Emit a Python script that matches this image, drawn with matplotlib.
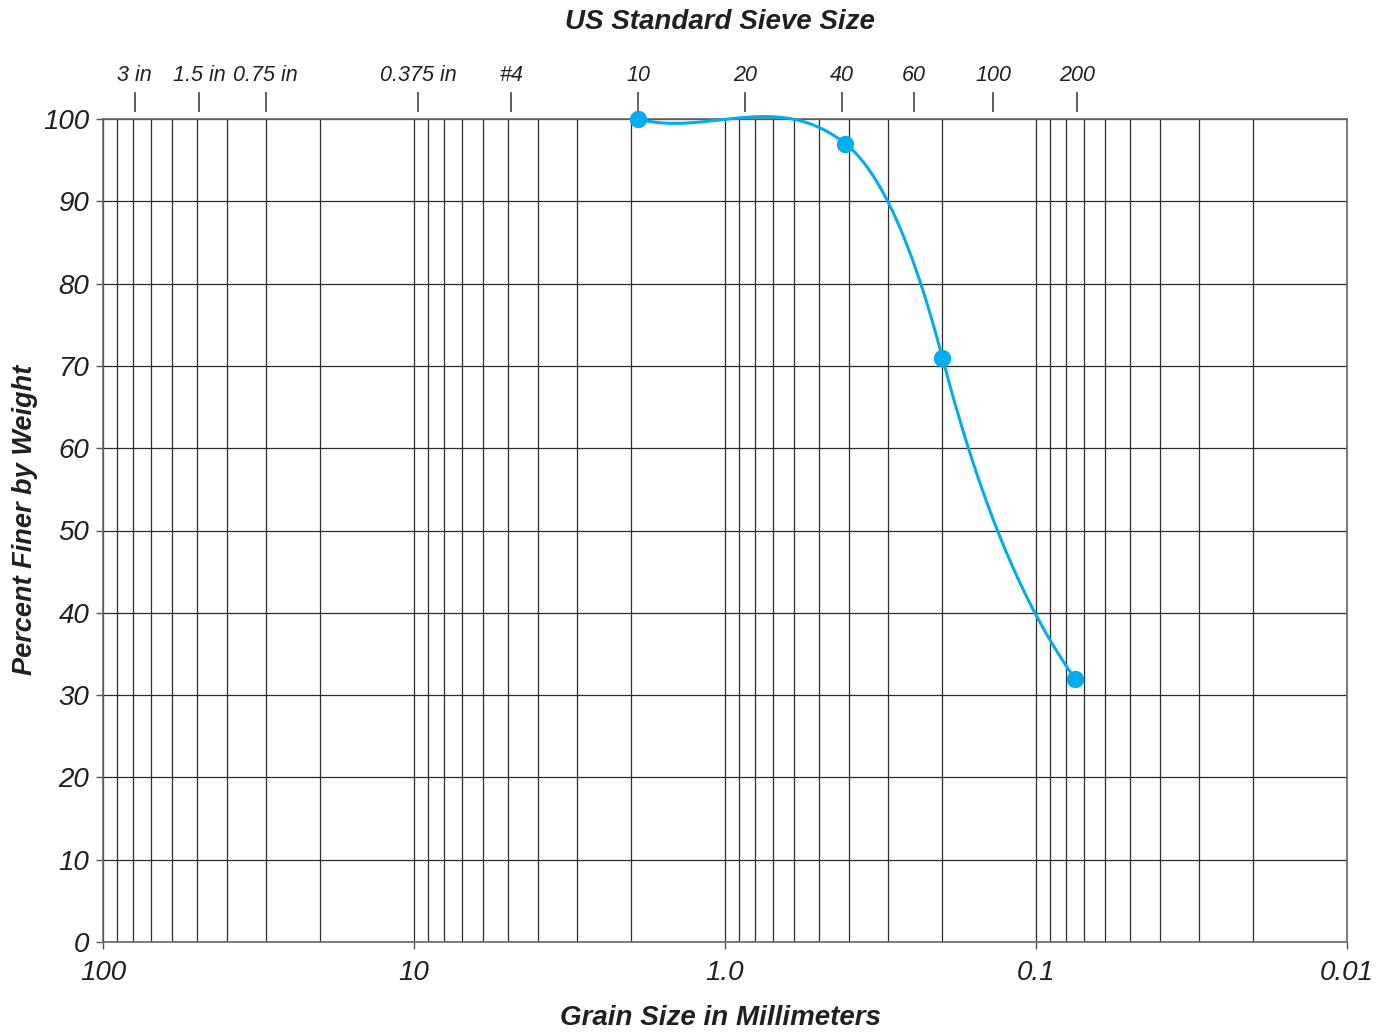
import matplotlib
matplotlib.use('Agg')
import matplotlib.pyplot as plt
import numpy as np
from matplotlib.ticker import FixedLocator, FixedFormatter, LogLocator, NullFormatter

plt.rcParams['font.family'] = ['Liberation Sans', 'DejaVu Sans']
plt.rcParams['font.style'] = 'italic'

# dados
grain_mm = [1.9, 0.41, 0.2, 0.075]
percent_finer = [100, 97, 71, 32]
# inclinacao da curva desenhada em cada ponto (% por decada)
curve_slope = [10, 30, 144, 54]

sieve_labels = ['3 in', '1.5 in', '0.75 in', '0.375 in', '#4', '10', '20', '40', '60', '100', '200']
sieve_mm = [79.0, 49.0, 30.0, 9.7, 4.87, 1.9, 0.86, 0.42, 0.247, 0.137, 0.074]

x_ticks = [100, 10, 1.0, 0.1, 0.01]
x_tick_labels = ['100', '10', '1.0', '0.1', '0.01']
y_ticks = list(range(0, 101, 10))

COR_LINHA = '#00aeef'
COR_TEXTO = '#231f20'
COR_GRADE = '#2b2b2b'


def curvaHermite(x, y, m, n=120):
  # curva suave (hermite cubica) em log10(x), passando pelos pontos
  u = np.log10(x)
  xs, ys = [], []
  for i in range(len(u) - 1):
    h = u[i + 1] - u[i]
    s = np.linspace(0, 1, n)
    h00 = 2 * s**3 - 3 * s**2 + 1
    h10 = s**3 - 2 * s**2 + s
    h01 = -2 * s**3 + 3 * s**2
    h11 = s**3 - s**2
    xs.append(u[i] + s * h)
    ys.append(h00 * y[i] + h10 * h * m[i] + h01 * y[i + 1] + h11 * h * m[i + 1])
  return 10 ** np.concatenate(xs), np.concatenate(ys)


fig = plt.figure(figsize=(13.9, 10.36), dpi=100)
ax = fig.add_axes([103 / 1390, 1 - 942 / 1036, (1347 - 103) / 1390, (942 - 119) / 1036])

ax.set_xscale('log')
ax.set_xlim(100, 0.01)
ax.set_ylim(0, 100)

ax.xaxis.set_major_locator(FixedLocator(x_ticks))
ax.xaxis.set_major_formatter(FixedFormatter(x_tick_labels))
ax.xaxis.set_minor_locator(LogLocator(base=10, subs=np.arange(2, 10)))
ax.xaxis.set_minor_formatter(NullFormatter())
ax.set_yticks(y_ticks)

ax.grid(which='both', axis='x', color=COR_GRADE, linewidth=0.9)
ax.grid(which='major', axis='y', color=COR_GRADE, linewidth=0.9)
ax.tick_params(axis='x', which='minor', length=0)
ax.tick_params(axis='x', which='major', direction='out', length=5, width=1, color='#555555',
               labelsize=20, pad=8, labelcolor=COR_TEXTO)
ax.tick_params(axis='y', direction='out', length=5, width=1, color='#555555',
               labelsize=20, pad=5, labelcolor=COR_TEXTO)
for lado in ['left', 'right', 'top', 'bottom']:
  ax.spines[lado].set_color('#666666')
  ax.spines[lado].set_linewidth(1.2)

cx, cy = curvaHermite(grain_mm, percent_finer, curve_slope)
ax.plot(cx, cy, color=COR_LINHA, linewidth=2.2, zorder=3, clip_on=False)
ax.plot(grain_mm, percent_finer, 'o', color=COR_LINHA, markersize=11.5, zorder=4, clip_on=False)

# eixo superior com as peneiras
sec = ax.secondary_xaxis(1 + 7 / 823)
sec.set_xticks(sieve_mm)
sec.set_xticklabels(sieve_labels)
sec.xaxis.set_minor_locator(FixedLocator([]))
sec.spines['top'].set_visible(False)
sec.tick_params(axis='x', which='major', direction='out', length=14.4, width=1.2, color='#444444',
                labelsize=15.5, pad=4, labelcolor=COR_TEXTO)

fig.text(720 / 1390, 1 - 22 / 1036, 'US Standard Sieve Size', ha='center', va='center',
         fontsize=20, fontweight='bold', color=COR_TEXTO)
fig.text(720 / 1390, 1 - 1018 / 1036, 'Grain Size in Millimeters', ha='center', va='center',
         fontsize=20, fontweight='bold', color=COR_TEXTO)
fig.text(25 / 1390, 1 - 520 / 1036, 'Percent Finer by Weight', ha='center', va='center',
         rotation=90, fontsize=19.5, fontweight='bold', color=COR_TEXTO)

plt.savefig('out.png', dpi=100)
